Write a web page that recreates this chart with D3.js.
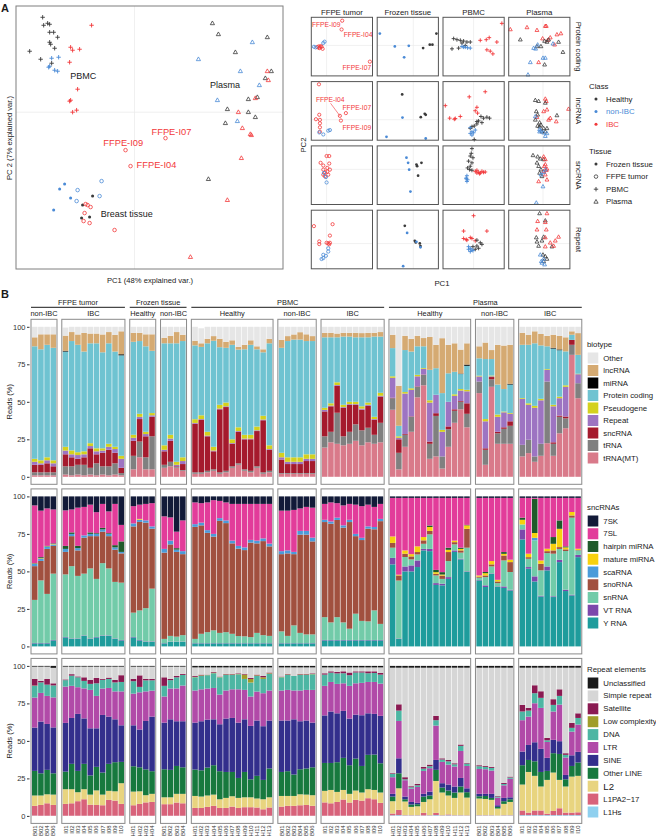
<!DOCTYPE html>
<html><head><meta charset="utf-8">
<script src="https://cdn.jsdelivr.net/npm/d3@7"></script>
<style>body{margin:0;background:#fff}svg{display:block}text{font-family:"Liberation Sans",Arial,Helvetica,sans-serif}</style>
</head><body><svg id="chart" width="656" height="839"></svg>
<script>
// ---------------- DATA ----------------
const classNames = ["Healthy","non-IBC","IBC"];
const classColors = ["#3b3b3b","#4a8ad6","#f2383a"];
const tissueNames = ["Frozen tissue","FFPE tumor","PBMC","Plasma"];

// Panel A, left PCA: [class, PC1, PC2]
const pcaPBMC = [
 ["Healthy",-9.2,9.5],["Healthy",-8.7,8.9],["Healthy",-8.5,8.8],["Healthy",-9.1,8.7],["Healthy",-8.5,8.0],["Healthy",-8.1,8.0],
 ["Healthy",-7.7,7.5],["Healthy",-8.5,7.0],["Healthy",-8.4,6.8],["Healthy",-8.0,6.4],["Healthy",-10.5,6.1],["Healthy",-9.4,5.3],["Healthy",-8.3,4.9],
 ["non-IBC",-8.3,5.4],["non-IBC",-7.6,5.5],["non-IBC",-8.5,4.6],["non-IBC",-8.6,4.5],["non-IBC",-8.0,4.2],["non-IBC",-7.7,4.1],
 ["IBC",-4.3,8.7],["IBC",-6.4,6.5],["IBC",-6.2,6.2],["IBC",-5.5,6.3],["IBC",-6.5,5.0],["IBC",-5.7,2.3],["IBC",-6.4,1.2],["IBC",-6.5,1.1],["IBC",-5.8,0.2],["IBC",-6.2,0.0]
];
const pcaPlasma = [
 ["Healthy",7.8,8.9],["Healthy",8.4,7.8],["Healthy",13.3,7.5],["Healthy",10.1,6.0],["Healthy",13.7,4.1],["Healthy",13.1,3.4],["Healthy",11.4,1.3],
 ["Healthy",12.3,1.5],["Healthy",9.3,0.3],["Healthy",11.4,0.0],["Healthy",12.1,-0.5],["Healthy",9.1,-1.1],["Healthy",7.4,-6.7],
 ["non-IBC",11.8,7.0],["non-IBC",6.4,5.3],["non-IBC",10.6,4.1],["non-IBC",12.5,2.7],["non-IBC",8.3,1.2],["non-IBC",10.3,-0.9],
 ["IBC",13.3,4.1],["IBC",13.4,3.2],["IBC",12.1,1.4],["IBC",10.4,0.0],["IBC",10.8,-1.6],["IBC",11.6,-2.2],["IBC",11.7,-2.3],["IBC",10.7,-4.6],["IBC",9.3,-8.8],["IBC",5.6,-14.5]
];
const pcaFFPE = [
 ["IBC",3.1,-2.6],["IBC",-0.9,-3.8],["IBC",-0.4,-5.4],["IBC",-4.9,-9.2],["IBC",-4.7,-9.3],["IBC",-4.4,-9.5],["IBC",-5.0,-10.1],["IBC",-5.1,-10.9],["IBC",-4.5,-11.1],["IBC",-2.0,-11.8],
 ["non-IBC",-3.3,-6.9],["non-IBC",-5.7,-7.8],["non-IBC",-3.5,-8.4],["non-IBC",-5.8,-8.9]
];
const pcaFrozen = [
 ["non-IBC",-7.0,-7.2],["non-IBC",-7.5,-7.7],["non-IBC",-6.4,-8.6],["non-IBC",-8.1,-9.8],
 ["Healthy",-4.2,-8.4],["Healthy",-5.2,-9.3],["Healthy",-4.5,-10.5],["Healthy",-5.3,-10.6]
];
// annotation labels [text, PC1, PC2, colour class]
const pcaLabels = [["PBMC",-5.13,3.63,"Healthy"],["Plasma",9.07,2.73,"Healthy"],["Breast tissue",-0.77,-10.2,"Healthy"],
 ["FFPE-I07",3.7,-1.97,"IBC"],["FFPE-I09",-1.13,-3.1,"IBC"],["FFPE-I04",2.2,-5.33,"IBC"]];

// Panel A facets: rows = data type, columns = tissue; values in relative PC units (0-100)
const facetRows = ["Protein coding","lncRNA","sncRNA","Repeat"];
const facetCols = ["FFPE tumor","Frozen tissue","PBMC","Plasma"];
const facetColZero = [25,59,50,56];
const facetRowZero = [52,35,60,43];
const facetProtein = [
 ["FFPE tumor","IBC",50.5,94.2],["FFPE tumor","IBC",49.5,79.2],["FFPE tumor","IBC",95.7,24.3],["FFPE tumor","IBC",9.8,49.1],["FFPE tumor","IBC",12,50.3],["FFPE tumor","IBC",14.1,48.6],["FFPE tumor","IBC",16.8,49.7],["FFPE tumor","IBC",13,47.4],["FFPE tumor","IBC",18.5,46.2],["FFPE tumor","IBC",15.2,50.9],
 ["FFPE tumor","non-IBC",4.3,49.7],["FFPE tumor","non-IBC",7.1,48.6],["FFPE tumor","non-IBC",19.6,56.1],["FFPE tumor","non-IBC",21.7,58.4],
 ["Frozen tissue","non-IBC",4.3,72.3],["Frozen tissue","non-IBC",28.8,50.3],["Frozen tissue","non-IBC",51.6,51.4],["Frozen tissue","non-IBC",44,31.8],
 ["Frozen tissue","Healthy",96.7,72.3],["Frozen tissue","Healthy",85.9,53.2],["Frozen tissue","Healthy",90.2,53.2],["Frozen tissue","Healthy",75,47.4],
 ["PBMC","Healthy",17.4,63.6],["PBMC","Healthy",22.8,61.8],["PBMC","Healthy",28.3,60.7],["PBMC","Healthy",33.7,59.5],["PBMC","Healthy",39.1,57.8],["PBMC","Healthy",14.7,46.2],["PBMC","Healthy",25.5,47.4],["PBMC","Healthy",36.4,52],["PBMC","Healthy",44.6,57.8],["PBMC","Healthy",31,56.1],
 ["PBMC","non-IBC",31,50.3],["PBMC","non-IBC",33.7,49.1],["PBMC","non-IBC",36.4,49.1],["PBMC","non-IBC",40.2,48],["PBMC","non-IBC",44.6,47.4],
 ["PBMC","IBC",96.2,89.6],["PBMC","IBC",75.5,65.3],["PBMC","IBC",70.7,61.8],["PBMC","IBC",60.9,60.7],["PBMC","IBC",88,57.8],["PBMC","IBC",71.7,44.5],["PBMC","IBC",77.2,42.2],["PBMC","IBC",81.5,37.6],
 ["Plasma","IBC",2.7,79.2],["Plasma","IBC",29.9,82.7],["Plasma","IBC",46.2,78],["Plasma","IBC",59.8,85],["Plasma","IBC",61.4,85],["Plasma","IBC",55.4,63.6],["Plasma","IBC",67.9,65.3],["Plasma","IBC",78.8,70.5],["Plasma","IBC",85.3,72.3],["Plasma","IBC",75,53.2],["Plasma","IBC",63.6,60.7],["Plasma","IBC",48.9,23.1],
 ["Plasma","Healthy",19,61.8],["Plasma","Healthy",58.7,59.5],["Plasma","Healthy",65.2,61.8],["Plasma","Healthy",81.5,57.8],["Plasma","Healthy",88.6,40.5],["Plasma","Healthy",62.5,57.8],["Plasma","Healthy",46.2,50.3],["Plasma","Healthy",52.7,50.3],["Plasma","Healthy",58.7,19.1],
 ["Plasma","non-IBC",35.3,23.1],["Plasma","non-IBC",47.3,53.2],["Plasma","non-IBC",44,46.2],["Plasma","non-IBC",40.8,47.4],["Plasma","non-IBC",56,30.6],["Plasma","non-IBC",59.8,30.6],["Plasma","non-IBC",31.5,2],["Plasma","non-IBC",72.3,54.9]
];
const facetLnc = [
 ["FFPE tumor","IBC",12.5,95.4],["FFPE tumor","IBC",13,43.4],["FFPE tumor","IBC",14.1,34.7],["FFPE tumor","IBC",7.6,35.8],["FFPE tumor","IBC",14.1,28.9],["FFPE tumor","IBC",14.1,22],["FFPE tumor","IBC",14.1,14.5],["FFPE tumor","IBC",46.7,41.6],["FFPE tumor","IBC",56.5,46.2],["FFPE tumor","IBC",48.4,33.5],
 ["FFPE tumor","non-IBC",13,13.3],["FFPE tumor","non-IBC",19.6,9.8],["FFPE tumor","non-IBC",27.7,16.2],["FFPE tumor","non-IBC",30.4,17.3],
 ["Frozen tissue","Healthy",40.8,78],["Frozen tissue","Healthy",71.2,39.3],["Frozen tissue","Healthy",77.7,45.1],["Frozen tissue","Healthy",79.3,43.4],
 ["Frozen tissue","non-IBC",41.3,38.7],["Frozen tissue","non-IBC",15.2,5.8],["Frozen tissue","non-IBC",79.3,2.9],
 ["PBMC","IBC",3.8,59],["PBMC","IBC",10.9,37.6],["PBMC","IBC",20.1,37],["PBMC","IBC",28.3,40.5],["PBMC","IBC",18.5,35.8],["PBMC","IBC",42.9,74],["PBMC","IBC",69,82.7],["PBMC","IBC",55.4,56.1],["PBMC","IBC",56.5,46.2],["PBMC","IBC",52.7,50.3],
 ["PBMC","Healthy",62,40.5],["PBMC","Healthy",66.3,37.6],["PBMC","Healthy",71.7,39.3],["PBMC","Healthy",76.1,37.6],["PBMC","Healthy",58.2,32.9],["PBMC","Healthy",55.4,27.7],["PBMC","Healthy",51.1,24.3],["PBMC","Healthy",47.3,23.1],["PBMC","Healthy",44.6,20.2],["PBMC","Healthy",51.1,1.2],["PBMC","Healthy",55.4,31.8],["PBMC","Healthy",63.6,30],
 ["PBMC","non-IBC",44.6,21.4],["PBMC","non-IBC",47.3,14.5],["PBMC","non-IBC",50,12.7],["PBMC","non-IBC",44.6,11.6],["PBMC","non-IBC",52.7,17.3],["PBMC","non-IBC",47.3,8.7],
 ["Plasma","IBC",59.8,70.5],["Plasma","IBC",61.4,66.5],["Plasma","IBC",57.1,49.1],["Plasma","IBC",62.5,52],["Plasma","IBC",67.9,37.6],["Plasma","IBC",77.7,31.8],["Plasma","IBC",97.8,53.2],["Plasma","IBC",65.2,34.7],["Plasma","IBC",46.2,39.3],
 ["Plasma","Healthy",43.5,68.2],["Plasma","Healthy",48.9,66.5],["Plasma","Healthy",45.1,49.1],["Plasma","Healthy",47.3,43.4],["Plasma","Healthy",59.8,63.6],["Plasma","Healthy",78.8,42.2],["Plasma","Healthy",50.5,30],["Plasma","Healthy",50.5,23.1],["Plasma","Healthy",57.1,20.2],["Plasma","Healthy",43.5,34.7],["Plasma","Healthy",52.7,26],["Plasma","Healthy",62.5,20.2],["Plasma","Healthy",47.3,24.3],["Plasma","Healthy",59.8,14.5],["Plasma","Healthy",54.3,14.5],
 ["Plasma","non-IBC",43.5,40.5],["Plasma","non-IBC",50.5,18.5],["Plasma","non-IBC",52.7,16.2],["Plasma","non-IBC",57.1,12.7],["Plasma","non-IBC",59.8,6.9],["Plasma","non-IBC",62.5,11.6],["Plasma","non-IBC",50.5,14.5]
];
const facetSnc = [
 ["FFPE tumor","IBC",25,82.7],["FFPE tumor","IBC",29.3,82.7],["FFPE tumor","IBC",15.2,71.1],["FFPE tumor","IBC",19.6,66.5],["FFPE tumor","IBC",29.3,69.9],["FFPE tumor","IBC",26.1,62.4],["FFPE tumor","IBC",30.4,59.5],["FFPE tumor","IBC",19.6,59.5],["FFPE tumor","IBC",22.3,54.9],["FFPE tumor","IBC",26.1,56.1],["FFPE tumor","IBC",27.7,50.9],["FFPE tumor","IBC",19.6,50.9],["FFPE tumor","IBC",22.3,48],
 ["FFPE tumor","non-IBC",20.7,53.8],["FFPE tumor","non-IBC",23.9,46.8],["FFPE tumor","non-IBC",25,37.6],
 ["Frozen tissue","non-IBC",47.8,79.8],["Frozen tissue","non-IBC",50.5,71.1],["Frozen tissue","non-IBC",52.2,59.5],["Frozen tissue","non-IBC",54.3,22],
 ["Frozen tissue","Healthy",64.1,68.2],["Frozen tissue","Healthy",65.2,65.3],["Frozen tissue","Healthy",72.3,71.1],["Frozen tissue","Healthy",66.8,49.1],
 ["PBMC","Healthy",47.3,95.4],["PBMC","Healthy",46.2,87.3],["PBMC","Healthy",44.6,82.7],["PBMC","Healthy",48.9,79.8],["PBMC","Healthy",41.8,74],["PBMC","Healthy",47.3,71.1],["PBMC","Healthy",44.6,65.3],["PBMC","Healthy",40.2,62.4],["PBMC","Healthy",43.5,59.5],["PBMC","Healthy",47.3,58.4],
 ["PBMC","IBC",52.7,56.6],["PBMC","IBC",55.4,53.8],["PBMC","IBC",58.2,54.9],["PBMC","IBC",60.9,53.8],["PBMC","IBC",63.6,56.6],["PBMC","IBC",66.3,54.9],["PBMC","IBC",69,55.5],["PBMC","IBC",55.4,58.4],["PBMC","IBC",59.8,52.6],
 ["PBMC","non-IBC",39.1,49.1],["PBMC","non-IBC",38,45.1],["PBMC","non-IBC",40.2,42.2],["PBMC","non-IBC",39.1,39.3],["PBMC","non-IBC",38,43.9],
 ["Plasma","Healthy",39.7,83.8],["Plasma","Healthy",47.3,81.5],["Plasma","Healthy",51.6,78],["Plasma","Healthy",46.2,71.1],["Plasma","Healthy",48.9,65.3],["Plasma","Healthy",52.7,59.5],["Plasma","Healthy",57.1,76.9],["Plasma","Healthy",50.5,53.8],["Plasma","Healthy",54.3,48],
 ["Plasma","IBC",57.1,81.5],["Plasma","IBC",59.8,76.9],["Plasma","IBC",59.8,68.2],["Plasma","IBC",62.5,60.7],["Plasma","IBC",61.4,58.4],["Plasma","IBC",57.1,56.6],["Plasma","IBC",59.8,50.9],["Plasma","IBC",48.9,39.3],["Plasma","IBC",62.5,42.2],["Plasma","IBC",58.2,65.3],
 ["Plasma","non-IBC",57.1,54.9],["Plasma","non-IBC",52.7,50.9],["Plasma","non-IBC",56,30.6],["Plasma","non-IBC",45.1,2.9],["Plasma","non-IBC",59.8,59.5]
];
const facetRepeat = [
 ["FFPE tumor","IBC",4.3,72.8],["FFPE tumor","IBC",34.8,76.1],["FFPE tumor","IBC",30.4,56.7],["FFPE tumor","IBC",13,46.7],["FFPE tumor","IBC",13,42.2],["FFPE tumor","IBC",25,44.4],["FFPE tumor","IBC",27.7,43.3],["FFPE tumor","IBC",30.4,44.4],["FFPE tumor","IBC",29.3,41.7],
 ["FFPE tumor","non-IBC",27.7,35],["FFPE tumor","non-IBC",27.7,29.4],["FFPE tumor","non-IBC",19.6,23.9],["FFPE tumor","non-IBC",23.9,22.2],["FFPE tumor","non-IBC",16.8,16.7],["FFPE tumor","non-IBC",19.6,18.3],
 ["Frozen tissue","Healthy",45.1,73.3],["Frozen tissue","Healthy",61.4,47.8],["Frozen tissue","Healthy",63,45],["Frozen tissue","Healthy",69.6,43.3],["Frozen tissue","Healthy",70.7,38.9],
 ["Frozen tissue","non-IBC",48.9,61.1],["Frozen tissue","non-IBC",64.1,46.1],["Frozen tissue","non-IBC",70.7,36.7],["Frozen tissue","non-IBC",42.4,4.4],
 ["PBMC","IBC",50,90.6],["PBMC","IBC",33.7,64.4],["PBMC","IBC",71.7,64.4],["PBMC","IBC",33.7,51.7],["PBMC","IBC",39.1,48.9],["PBMC","IBC",47.3,51.7],["PBMC","IBC",52.7,47.8],["PBMC","IBC",44.6,53.3],["PBMC","IBC",38,50],
 ["PBMC","Healthy",55.4,48.9],["PBMC","Healthy",60.9,44.4],["PBMC","Healthy",63.6,41.7],["PBMC","Healthy",55.4,38.9],["PBMC","Healthy",48.9,37.8],["PBMC","Healthy",58.2,35],["PBMC","Healthy",52.7,33.3],
 ["PBMC","non-IBC",41.8,37.8],["PBMC","non-IBC",44.6,35],["PBMC","non-IBC",47.3,32.2],["PBMC","non-IBC",41.8,33.3],["PBMC","non-IBC",44.6,29.4],["PBMC","non-IBC",48.9,31.1],
 ["Plasma","Healthy",50.5,94.4],["Plasma","Healthy",59.8,82.2],["Plasma","Healthy",57.1,54.4],["Plasma","Healthy",45.1,53.3],["Plasma","Healthy",46.2,46.1],["Plasma","Healthy",48.9,38.9],["Plasma","Healthy",54.3,47.8],["Plasma","Healthy",56,23.9],["Plasma","Healthy",59.8,21.1],["Plasma","Healthy",62.5,16.7],["Plasma","Healthy",70.7,37.8],["Plasma","Healthy",57.1,12.8],
 ["Plasma","IBC",62.5,94.4],["Plasma","IBC",47.3,81.1],["Plasma","IBC",59.8,79.4],["Plasma","IBC",46.2,66.7],["Plasma","IBC",61.4,66.7],["Plasma","IBC",59.8,53.3],["Plasma","IBC",67.9,44.4],["Plasma","IBC",76.1,47.8],["Plasma","IBC",81.5,54.4],["Plasma","IBC",73.4,38.9],["Plasma","IBC",59.8,37.8],
 ["Plasma","non-IBC",51.6,23.9],["Plasma","non-IBC",57.1,16.7],["Plasma","non-IBC",54.3,10],["Plasma","non-IBC",58.7,7.2],["Plasma","non-IBC",53.3,12.8]
];
// facet annotations [row, text, left x, y]
const facetLabels = [[0,"FFPE-I09",1,88],[0,"FFPE-I04",53,70.5],[0,"FFPE-I07",51,14],
 [1,"FFPE-I04",7.6,69.4],[1,"FFPE-I07",51,56],[1,"FFPE-I09",51,22]];
const facetLeader = [[1,31.5,63,46.7,41.6]];

// Panel B: sample groups
const sampleGroups = [
 ["FFPE tumor","non-IBC",["B01","B02","B04","B06"]],
 ["FFPE tumor","IBC",["I01","I02","I03","I04","I05","I06","I07","I08","I09","I10"]],
 ["Frozen tissue","Healthy",["H01","H02","H03","H04"]],
 ["Frozen tissue","non-IBC",["B01","B02","B03","B04"]],
 ["PBMC","Healthy",["H01","H02","H03","H04","H05","H06","H07","H08","H09","H10","H11","H12","H13"]],
 ["PBMC","non-IBC",["B01","B02","B03","B04","B05","B06"]],
 ["PBMC","IBC",["I01","I02","I03","I04","I05","I06","I07","I08","I09","I10"]],
 ["Plasma","Healthy",["H01","H02","H03","H04","H05","H06","H07","H08","H09","H10","H11","H12","H13"]],
 ["Plasma","non-IBC",["B01","B02","B03","B04","B05","B06"]],
 ["Plasma","IBC",["I01","I02","I03","I04","I05","I06","I07","I08","I09","I10"]]
];
// stack keys, bottom to top
const biotypeKeys = ["tRNA(MT)","tRNA","sncRNA","Repeat","Pseudogene","Protein coding","miRNA","lncRNA","Other"];
const biotypeColors = ["#d97a8a","#808080","#a51a2d","#9d74c2","#d4d11e","#6fc3d1","#000000","#d5aa72","#e6e6e6"];
const sncKeys = ["Y RNA","VT RNA","snRNA","snoRNA","scaRNA","mature miRNA","hairpin miRNA","7SL","7SK"];
const sncColors = ["#1e9c9c","#7c48ab","#72cba9","#a1503f","#4b9bd9","#f7d10d","#1f5a2a","#e23c9a","#121a38"];
const repeatKeys = ["L1Hs","L1PA2\u221217","L2","Other LINE","SINE","LTR","DNA","Low complexity","Satellite","Simple repeat","Unclassified"];
const repeatColors = ["#8fd0ef","#d8627a","#e8d47f","#17793e","#332f8c","#b14aa8","#4db6a3","#a09d2a","#8a1a52","#d6d6d6","#1a1a1a"];

// reads (%) per sample, columns in key order (bottom to top)
const biotypeShare = [
 [1,2,5,2,2,75,0,6,7],[1,2,5,1,2,74,0,10,5],[1,2,6,2,2,75,0,7,5],[1,2,4,2,2,75,0,9,5],
 [1.5,5.5,8,2.5,2.5,63.5,0.5,10.1,5.4],[1,6,6,2,2.6,72.9,0,6,3.5],[1.5,6.5,4,2.5,1.9,71.6,0,6.9,5.1],[1,7,5,2,2,66.5,0,12.4,4.1],[1.5,4.5,13,1.5,1.9,66.6,0,6.5,4.5],
 [1,8,6,2,2,70,0,6.5,4.5],[1.5,5.5,9,1.5,1.5,64,0,11.9,5.1],[1,6,11,2,2,67,0,7.5,3.5],[1.5,7.5,7,2.5,1.5,63.5,0,11.1,5.4],[1,1.5,3.5,6,2,67,0.7,15.3,3],
 [5,9,10,2,2,62,0,6,4],[13,10.5,15,1.5,2,48.5,0,5.5,4],[5,8,14,1.5,1.5,57,0,8,5],[5,22,13,1,1.5,41.5,0,11,5],
 [6,2,9,1,3,68,0,3.7,7.3],[7,3,14,1.5,2.5,61,0,5,6],[6,0.5,0.5,1,2,79,0,7.5,3.5],[4,0.5,4,2,2.5,77.5,0,4.2,5.3],
 [2,1,32.4,0.5,2.5,49.2,0,3.1,9.3],[2,1,35,0.5,2.5,45.6,0,2.4,10],[3,1,23,0.5,2.5,59,0,3,8],[4,1,12,0.5,2.5,70.7,0,3.1,6.2],[2,1,42,0.5,2.5,38.4,0,5.6,8],
 [3,1,42.5,0.5,2.5,36.5,0,4,10],[6,1,15,0.5,2.5,63,0,3,9],[8,1,21,0.5,2.5,51.8,0,1.9,13.3],[4,1,20,0.5,2.5,57,0,3,12],[3,1,21,0.5,2.5,60,0,3,9],
 [6,1,23.5,0.5,2.5,51.5,0,2,13],[2,1,34.7,0.5,2.5,42.3,0,2,15],[3,1,14,0.5,2.5,68,0,3,8],
 [2,0.5,9,1.5,3,70,0,5.3,8.7],[2,0.5,6,1.5,3,77.5,0,3.3,6.2],[2,0.5,6,1.5,3,78.5,0,3.4,5.1],[2,0.5,6,1.5,3,78.5,0,4.9,3.6],[2,0.5,8,1.5,3,75.5,0,4.5,5],[2,0.5,8,1.5,3,75.5,0,3.3,6.2],
 [19.5,7.5,16.6,1,1.4,47,0,3,4],[23,7,17,0.5,1.5,44,0,3,4],[22,20.7,18,0.5,1.8,30,0,2.5,4.5],[21,6,19,0.5,1.5,45.5,0,2.5,4],[22,8,18,0.5,1.5,43.5,0,2.5,4],
 [24,11,13,0.5,1.5,43,0,3,4],[21,10,13.7,0.8,1.5,46,0,2.8,4.2],[23,9.7,14.6,0.7,1.5,43.5,0,3,4],[22,6,10,0.5,1.5,53.5,0,2.5,4],[23,13,17.5,0.5,2,37.5,0,3,3.5],
 [44.7,7.7,0.3,13.3,1,18.8,0,8.9,5.3],[5,11,9,1,1,7,0,26.7,39.3],[20,8,0.5,27,1,28,0,9.5,6],[30,10,0.3,17.7,1,24.5,0,8.5,8],[53,7,0.3,6.7,1,19,0,7,6],
 [61,7,0.2,3.8,0.5,14.5,0,5.5,7.5],[12,10,1.5,26,1.5,20.3,0,22,6.7],[13.6,27,1.8,12.3,0,17.7,0,15.6,12],[5.5,8.1,0,16.4,1.3,24.5,0,36.6,7.6],[20,11.7,1.9,16.4,0,19,0,19,12],
 [36,8,1,9,1,15,0,19,11],[45,5,0.5,7,1,10,0.3,16,15.2],[33,9,7,8,1,16,0.8,14.2,11],
 [55.8,7.7,0,3.4,0.5,11.6,0,8,13],[8,10,1,18,1.5,40,0,11,10.5],[60,5,1.5,0.5,0.5,11,0,6,15.5],[22,7,1,10,1.5,20,0,26.5,12],[22,10,1,10,0.5,15,0,29,12.5],[22,12,3,5,0.5,19,0.5,26,12],
 [13.6,7.7,0,30.7,0.5,35.5,0,8,4],[15.8,8.9,0,23.3,1,39,0,6.7,5.3],[10,3.6,0,32.4,1.3,41.7,0,8,3],[14,8,0,29,1,35.6,0,7.6,4.8],[22.4,41.1,0,7.8,0.5,15.2,0,7,6],
 [14,8,1,24,1,37.5,0.5,8.7,5.3],[29,11,0.8,11.6,1,31,0.5,9,6.1],[32.4,6.6,1.2,19.8,1,22.6,0,9.4,7],[81.3,6.7,3.3,0,0,3.4,0,2.3,3],[52.4,10,0,6,0.3,12.6,0,14.5,4.2]
];
const sncShare = [
 [2,0.3,28.7,22.5,1.5,0.2,0.3,38.5,6],[2,0.3,41.7,13,1.5,0.3,0.7,31,9.5],[2,0.3,32.7,30,1.5,0.2,0.3,25,8],[4,0.3,44.2,18.5,1,0.3,0.4,22.6,8.7],
 [6,0.3,41.7,15,2,0,2,23.7,9.3],[5,0.3,48.2,20,1.5,0,1,15.3,8.7],[5,0.3,41.7,17,1.5,0,1.5,25.5,7.5],[7,0.3,41.2,24,1.5,0,0,19,7],[5,0.3,46.7,21.5,1.5,0,1,18.5,5.5],
 [6,0.3,38.7,28.5,1.5,0,0.5,14,10.5],[7,0.3,48.2,21,1.5,0,1,16,5],[7,0.3,44.7,21.5,1.5,0,0.5,14.5,10],[5,0.3,37.7,21.5,1.5,0,1.5,27.5,5],[4,0.3,38.2,19.5,1,0,7,11,19],
 [6,0.3,16.2,57.5,2,0,0,11.5,6.5],[4,0.3,19.7,59,1.5,0.5,0,9.5,5.5],[3,0.3,22.2,57,1.5,0,0,11,5],[3,0.3,35.2,40,1.5,0,0,15.5,4.5],
 [2,0.2,2.8,57.5,2.5,0,0,21.7,13.3],[3,0.2,3.8,61,2.5,0,0,15.5,14],[3,0.2,3.3,56.5,1.5,0,1,11,23.5],[3,0.2,4.3,54,2,0,0,20.5,16],
 [2,0.2,2.8,74.7,1.8,0,0,14.5,4],[2,0.2,6.2,72.3,1.8,0,0,13,4.5],[2,0.2,7.3,66.2,1.8,0,0,18.5,4],[2,0.2,8.5,62.5,1.8,0,0,22.5,2.5],[2,0.2,6.8,74.7,1.8,0,0,11.5,3],
 [2,0.2,7.3,72.7,1.8,0,0,12,4],[2,0.2,6.2,60.3,1.8,0,0,24.5,5],[2,0.2,4.7,58.3,1.8,0,0,28,5],[2,0.2,4.5,57.5,1.8,0,0,29,5],[2,0.2,4,63,1.8,0,0,24,5],
 [2,0.2,6.8,59.7,1.8,0,0,24.5,5],[2,0.2,5.3,62.7,1.8,0,0,23,5],[2,0.2,4.8,59.7,1.8,0,0,26.5,5],
 [2,0.2,7.8,51.5,2,0,0,27,9.5],[2,0.2,4.8,55,2,0,0,26.5,9.5],[2,0.2,11.8,47.5,1.5,0,0,28,9],[2,0.2,6.8,65.5,2.5,0,0,15,8],[2,0.2,5.8,66.5,2.5,0,0,16,7],[2,0.2,5.8,62,2.5,0,0,20,7.5],
 [4,0.3,15.2,63.4,1.5,0,0,10.6,5],[4,0.3,11.7,65.8,1.5,0,0,12.7,4],[4,0.3,15.2,64.8,1.5,0,0,9.7,4.5],[4,0.3,11.7,63.2,1.5,0,0,13.3,6],[4,0.3,7.5,71.1,1.5,0,0,10.6,5],
 [4,0.3,17.5,51.7,1.5,0,0,19.5,5.5],[4,0.3,12.7,53.9,1.5,0,0,21.1,6.5],[4,0.3,12.4,61.8,1.5,0,0,14.5,5.5],[4,0.3,19.7,54.1,1.5,0,0,13.4,7],[4,0.3,10.7,68.5,1.5,0,0,10,5],
 [54.7,4.3,6.8,3.2,0,4.3,0,25.7,1],[5,0.3,38.6,3.4,0,0.5,0,51.2,1],[50,3.3,6.3,2.2,0,2.2,0,35,1],[50,4,4,2,0,1.5,0,37.5,1],[52.9,4.4,4,1.6,0,3.8,0,32.3,1],
 [64,1,3.4,2.3,0,2.2,0,26.1,1],[63.5,1.5,9.7,2.3,0,2.6,1,18.4,1],[41,1.2,5.1,1.1,0,1.1,1.5,48,1],[40.7,1.1,3.2,2.2,0,0.7,1.6,49.5,1],[45,1.2,10.7,6,0,1.5,1.4,33.2,1],
 [63,1,4,1.5,0,1,0,28.5,1],[58,0.5,4,1.5,0,1,0.8,33.2,1],[49.6,0.4,15.8,12.6,0,2.3,0.3,18,1],
 [44,0.3,1.5,0.7,0,0.8,0,51.7,1],[39.6,1.1,5.5,1.1,0,1.5,0.8,49.4,1],[48.4,0.3,4.6,1.4,0,2.2,0,42.1,1],[39.6,0.4,2.2,1.1,0,1.1,0,54.6,1],[39,1,17.3,3.3,0,1.1,1.2,36.1,1],[37.3,0.5,11.8,6.6,0,1.6,0,41.2,1],
 [71.3,6.7,3.3,0,0,3.1,1.4,13.2,1],[51.8,1.1,5.5,1.1,0,2.3,0,37.2,1],[43.3,3.4,24,0,1.7,3.2,22.8,0.6,1],[33.3,0.5,16.9,4.4,0,2.2,0,41.7,1],[50.7,2.6,8.9,1.3,0,1.6,0,33.9,1],
 [32.9,0.5,28.4,2.2,0,4.4,4.5,26.1,1],[56.2,1.5,7.3,1.2,0,12.2,5.6,15,1],[36.9,0.9,25.8,1.1,0,1.3,0.7,32.3,1],[34,0.5,51.3,1.5,0,2.3,0,9.4,1],[59.5,1.5,3,0.3,0,0.8,0,33.9,1]
];
const repeatShare = [
 [0.2,6.5,6.9,16.4,28.9,20,7.8,0.2,4.4,8.2,0.5],[0.1,7.2,6.3,14.8,34.5,19.1,7,0,1,9.5,0.5],[0.1,8.3,6,16.3,30.6,18.7,7.5,0,3.8,8.2,0.5],[0.1,7.2,6.9,14.2,30.6,20,8,0,1.4,10.3,1.3],
 [0.1,7.9,9.8,11.7,32.5,24.2,4.3,0,0.5,8.5,0.5],[0.1,8.3,9.4,16.9,30.6,21.4,6.8,0,1,5,0.5],[0.1,9.7,6,14.2,38,17.8,6.6,0,0.6,6.5,0.5],[0.1,11,6.7,16.9,30.3,20,5,0,2.4,7.1,0.5],[0.1,7.4,6.7,12.8,31.4,25.6,4,0,2.7,8.8,0.5],
 [0.1,7.2,9.7,15.7,25.7,21.6,8.4,0,3.6,7.5,0.5],[0.1,7,7.1,14.7,38.4,17.6,5.8,0,0.6,8.2,0.5],[0.1,10.6,6,18,31.5,19.1,6,0,0.9,7.3,0.5],[0.1,10.1,6.2,19.4,28.6,18.6,6,0,1.7,8.8,0.5],[0.1,7.9,13.8,14.2,24.4,22.6,6.3,0,4.5,5.7,0.5],
 [0.1,7,9.1,16.9,27.3,21.1,8.3,0,1.5,8.2,0.5],[0.1,7.9,8.4,16,25.2,24.8,3.6,0,7.7,5.8,0.5],[0.1,8.9,4.8,17.2,32.3,19.7,7.4,0,0.9,8.2,0.5],[0.1,9.2,5.4,15.1,36.4,17.3,6.9,0,0.9,8.2,0.5],
 [0.1,7.7,4.6,18.7,31.1,17.4,7.1,0,5.7,7.1,0.5],[0.1,7.7,4.6,18.3,33.7,20.5,5.6,0,0.8,8.2,0.5],[0.1,8.8,5.8,18.6,29.8,21.9,7.4,0,0.9,6.2,0.5],[0.1,8.3,6.3,17.7,30.7,23.8,7.1,0,0.7,4.8,0.5],
 [0.1,5.2,8,17.6,31.3,21.4,8.8,0.3,0.6,5.7,1],[0.1,5.2,7.6,17.5,32.7,21.3,8.9,0.4,0.5,4.8,1],[0.1,5.9,7.6,18.6,32,20.7,8.9,0.2,0.2,4.8,1],[0.1,6.6,7.5,19.6,30.6,20.9,9.8,0.4,0.5,3,1],[0.1,5.2,5.8,18.7,31.3,19.8,11.5,0.2,0.3,6.1,1],
 [0.1,5.2,6.7,17.3,35.6,18.7,10.4,0.3,0.4,4.3,1],[0.1,6.1,6.9,16.2,36,19.1,9.6,0.3,0.4,4.3,1],[0.1,5.2,6.7,13.3,36.9,22.2,10,0.3,0.4,3.9,1],[0.1,5.7,6.6,16.9,35.1,19.6,7.3,2.9,0.5,4.3,1],[0.1,5.7,6.6,12,35.6,19.6,9.3,2.4,0.7,7,1],
 [0.1,5.5,6,15.1,36.9,19.3,10.4,0.4,0.5,4.8,1],[0.1,4.3,6.7,12.9,35.8,22,9.5,1.1,0.9,5.7,1],[0.1,5.5,6.8,19.2,32,20,11.1,0.4,0.5,3.4,1],
 [0.1,6.1,7.1,16,34.3,20,8.8,0.2,0.3,6.1,1],[0.1,6.6,6.6,16.5,33.8,20.4,10,0.3,0.4,4.3,1],[0.1,6.6,6.6,14.3,36.8,19.2,9.7,0,0,5.7,1],[0.1,7,7.3,16.7,32,20.5,10.4,0.3,0.4,4.3,1],[0.1,7.2,6.9,17.4,32,20.4,10,0.3,0.4,4.3,1],[0.1,6.6,7.1,18.6,29.8,21.8,10.4,0.3,0.4,3.9,1],
 [0.1,8.9,7.7,18.6,31.7,19.7,7.5,0,0.9,3.9,1],[0.1,8.3,8.9,18,34.3,19.7,6.2,0,0.9,2.6,1],[0.1,9.2,6.7,19.8,32.6,19.6,7,0,1,3,1],[0.1,10.8,6.4,21.4,31.3,18.4,6.7,0,1.3,2.6,1],[0.1,8.8,5.8,19.1,31.1,21.8,7.1,0,1.8,3.4,1],
 [0.1,10.6,6.2,21.3,29.3,20.9,7.2,0,0.8,2.6,1],[0.1,10.1,5.4,17.7,33.8,21.6,6.9,0,0.8,2.6,1],[0.1,11.7,6,22.9,27.7,20.9,5.8,0,1.3,2.6,1],[0.1,11,6.2,23.6,27.1,21.3,6,0,1.1,2.6,1],[0.1,8.6,6.9,19.5,31.6,21.5,6,0,1.1,3.7,1],
 [0.4,1.2,8.2,3.1,1.8,11.1,2.2,0,0.5,70.3,1.2],[0.5,3.5,14.4,10,10,24.9,6.9,0,4.2,24.4,1.2],[0.3,0.2,9.1,1.5,1.8,10.9,0.6,0,1.4,73,1.2],[0.3,0.2,5.5,1.6,1.7,8.9,0.9,0,0.7,79,1.2],[0.3,0.2,5.9,1.4,0.9,10.6,1.1,0,0.9,77.5,1.2],
 [0.3,1.7,7.3,3.6,1.8,15.3,1.5,0,1.2,66.1,1.2],[0.3,0.2,10.6,2.5,2.6,15.6,1.3,0,1.1,64.6,1.2],[0.5,1.5,21.3,7.4,6.6,22.9,3.6,0,2.9,32.1,1.2],[0.3,0.2,15.1,3.3,2.9,14.2,1.6,0,0.8,60.4,1.2],[0.4,0.6,12.6,3.3,4,13.3,2.2,0,0.9,61.5,1.2],
 [0.3,0.2,11.5,3.6,4,13.3,1.5,0,0.7,63.7,1.2],[0.3,0.2,15.1,4,5.7,18,3.4,0,0.9,51.2,1.2],[0.2,0.2,11.8,3.6,2.6,14.9,1.6,0,0.4,63.5,1.2],
 [0.3,0.2,11.1,1.5,1.6,16.6,1.8,0,0.7,65,1.2],[0.3,0.2,10.8,2,1.4,16.4,1.6,0,0.6,65.5,1.2],[0.3,0.2,10.2,1.3,2.7,15.5,1.8,0,0.7,66.1,1.2],[0.2,0.1,4.6,1.1,1.1,5.1,0.7,0,0.4,85.5,1.2],[0.3,0.2,7.5,1.8,2.2,8.4,0.9,0,0.7,76.8,1.2],[0.3,0.2,8.8,1.8,1.3,12.3,0.9,0,0.6,72.6,1.2],
 [0.5,3.1,17.3,12.9,9.1,20.9,5.8,0,4.4,24.8,1.2],[0.5,1.7,27.1,8,10,18.9,4,0,1.8,26.8,1.2],[0.5,3.1,23.1,9.7,12.7,26,6.7,0,5.3,11.7,1.2],[0.5,3.1,16,9.7,15.4,27.3,6.7,0,4.4,15.7,1.2],[0.5,1,22.5,6,8.7,10.6,1.1,0,1.6,46.8,1.2],
 [0.5,2.8,25.6,12.9,8.9,18.9,4.4,0,3.8,21,1.2],[0.5,4.6,18.9,17.3,8.5,24.4,5.8,0,4.4,14.4,1.2],[0.5,1.7,17.4,4.8,2.9,11.6,1.8,0,1.1,57,1.2],[0.5,1.7,24,7.1,7.1,15.8,2.5,0,3.3,36.8,1.2],[0.5,1.9,24.3,8.9,7.1,18.2,4.4,0,3.1,30.4,1.2]
];
const yTicks = [0,25,50,75,100];

// ---------------- DRAWING ----------------
const svg = d3.select("#chart");
const INK = "#1a1a1a";
const colorOf = d3.scaleOrdinal().domain(classNames).range(classColors);

function text(g, x, y, s, o = {}) {
  const t = g.append("text").attr("x", x).attr("y", y).text(s)
    .attr("font-size", o.size || 8).attr("fill", o.fill || INK)
    .attr("text-anchor", o.anchor || "start").attr("dominant-baseline", o.base || "central");
  if (o.weight) t.attr("font-weight", o.weight);
  if (o.rotate != null) t.attr("transform", `rotate(${o.rotate},${x},${y})`);
  return t;
}
function marker(g, tissue, color, s) {
  if (tissue === "FFPE tumor") g.append("circle").attr("r", 1.7 * s).attr("fill", "none").attr("stroke", color).attr("stroke-width", 0.8);
  else if (tissue === "Frozen tissue") g.append("circle").attr("r", 1.45 * s).attr("fill", color);
  else if (tissue === "PBMC") g.append("path").attr("d", `M${-2.1*s},0H${2.1*s}M0,${-2.1*s}V${2.1*s}`).attr("stroke", color).attr("stroke-width", 0.9);
  else g.append("path").attr("d", `M0,${-2.2*s}L${2*s},${1.35*s}L${-2*s},${1.35*s}Z`).attr("fill", "none").attr("stroke", color).attr("stroke-width", 0.8);
}

// panel letters
text(svg, 1, 8, "A", {size: 11, weight: "bold"});
text(svg, 1, 294, "B", {size: 11, weight: "bold"});

// ---- Panel A left PCA ----
{
  const x = d3.scaleLinear().domain([-11.87, 14.87]).range([16, 283]);
  const y = d3.scaleLinear().domain([-15.7, 10.63]).range([269, 6]);
  const g = svg.append("g");
  g.append("line").attr("x1", x(0)).attr("x2", x(0)).attr("y1", y.range()[1]).attr("y2", y.range()[0]).attr("stroke", "#ebebeb").attr("stroke-width", 0.8);
  g.append("line").attr("y1", y(0)).attr("y2", y(0)).attr("x1", x.range()[0]).attr("x2", x.range()[1]).attr("stroke", "#ebebeb").attr("stroke-width", 0.8);
  const sets = [["Frozen tissue", pcaFrozen], ["FFPE tumor", pcaFFPE], ["PBMC", pcaPBMC], ["Plasma", pcaPlasma]];
  sets.forEach(([tissue, arr]) => {
    arr.forEach(d => {
      const m = g.append("g").attr("transform", `translate(${x(d[1])},${y(d[2])})`);
      marker(m, tissue, colorOf(d[0]), 1.05);
    });
  });
  pcaLabels.forEach(d => text(g, x(d[1]), y(d[2]), d[0], {size: d[3] === "IBC" ? 9.3 : 9, anchor: "middle", fill: d[3] === "IBC" ? classColors[2] : INK}));
  g.append("rect").attr("x", 16).attr("y", 6).attr("width", 267).attr("height", 263).attr("fill", "none").attr("stroke", "#7f7f7f").attr("stroke-width", 1);
  text(svg, 150, 280, "PC1 (48% explained var.)", {size: 7.6, anchor: "middle"});
  text(svg, 9, 138, "PC 2 (7% explained var.)", {size: 7.6, anchor: "middle", rotate: -90});
}

// ---- Panel A facets ----
{
  const colX = [311.3, 377.2, 443, 508.7], fw = 61.2;
  const rowY = [17.3, 81.6, 145.9, 210.2], fh = 58.6;
  const rowsData = [facetProtein, facetLnc, facetSnc, facetRepeat];
  facetRows.forEach((rn, r) => {
    facetCols.forEach((cn, c) => {
      const fx = d3.scaleLinear().domain([0, 100]).range([colX[c], colX[c] + fw]);
      const fy = d3.scaleLinear().domain([0, 100]).range([rowY[r] + fh, rowY[r]]);
      const g = svg.append("g");
      g.append("line").attr("x1", fx(facetColZero[c])).attr("x2", fx(facetColZero[c])).attr("y1", fy(0)).attr("y2", fy(100)).attr("stroke", "#ebebeb").attr("stroke-width", 0.7);
      g.append("line").attr("y1", fy(facetRowZero[r])).attr("y2", fy(facetRowZero[r])).attr("x1", fx(0)).attr("x2", fx(100)).attr("stroke", "#ebebeb").attr("stroke-width", 0.7);
      rowsData[r].filter(d => d[0] === cn).forEach(d => {
        const m = g.append("g").attr("transform", `translate(${fx(d[2])},${fy(d[3])})`);
        marker(m, cn, colorOf(d[1]), 0.95);
      });
      if (c === 0) {
        facetLabels.filter(d => d[0] === r).forEach(d => text(g, fx(d[2]), fy(d[3]), d[1], {size: 6.7, fill: classColors[2]}));
        facetLeader.filter(d => d[0] === r).forEach(d => g.append("line").attr("x1", fx(d[1])).attr("y1", fy(d[2])).attr("x2", fx(d[3])).attr("y2", fy(d[4])).attr("stroke", classColors[2]).attr("stroke-width", 0.6));
      }
      g.append("rect").attr("x", colX[c]).attr("y", rowY[r]).attr("width", fw).attr("height", fh).attr("fill", "none").attr("stroke", "#555").attr("stroke-width", 1);
      if (r === 0) text(svg, colX[c] + fw / 2, 12, cn, {size: 7.8, anchor: "middle"});
    });
    text(svg, 578, rowY[r] + fh / 2, rn, {size: 7.8, anchor: "middle", rotate: 90});
  });
  text(svg, 303, 145, "PC2", {size: 7.8, anchor: "middle", rotate: -90});
  text(svg, 442, 283, "PC1", {size: 7.8, anchor: "middle"});
  // legends
  const lg = svg.append("g");
  text(lg, 589, 86, "Class", {size: 7.8});
  classNames.forEach((cn, i) => {
    const yy = 99 + i * 12.6;
    const m = lg.append("g").attr("transform", `translate(596,${yy})`);
    marker(m, "Frozen tissue", classColors[i], 1.05);
    text(lg, 606, yy, cn, {size: 7.8, fill: i === 0 ? INK : classColors[i]});
  });
  text(lg, 589, 151, "Tissue", {size: 7.8});
  tissueNames.forEach((tn, i) => {
    const yy = 164 + i * 12.6;
    const m = lg.append("g").attr("transform", `translate(596,${yy})`);
    marker(m, tn, "#3b3b3b", 1.05);
    text(lg, 606, yy, tn, {size: 7.8});
  });
}

// ---- Panel B ----
{
  const u = 6.19, gap = 4.8, x0 = 31;
  let cx = x0, idx = 0;
  const layout = sampleGroups.map(g => {
    const w = (g[2].length + 0.2) * u;
    const o = {tissue: g[0], cls: g[1], samples: g[2], x: cx, w, start: idx};
    cx += w + gap; idx += g[2].length;
    return o;
  });
  const panels = [
    {top: 319.3, keys: biotypeKeys, colors: biotypeColors, data: biotypeShare, title: "biotype"},
    {top: 488.9, keys: sncKeys, colors: sncColors, data: sncShare, title: "sncRNAs"},
    {top: 658.4, keys: repeatKeys, colors: repeatColors, data: repeatShare, title: "Repeat elements"}
  ];
  const ph = 165;
  panels.forEach((p, pi) => {
    const y = d3.scaleLinear().domain([0, 100]).range([p.top + ph - 7.5, p.top + 7.5]);
    const rows = p.data.map(r => Object.fromEntries(p.keys.map((k, i) => [k, r[i]])));
    const stacked = d3.stack().keys(p.keys)(rows);
    const col = d3.scaleOrdinal().domain(p.keys).range(p.colors);
    layout.forEach(L => {
      const xb = d3.scaleBand().domain(L.samples).range([L.x, L.x + L.w]).paddingInner(0.1).paddingOuter(0.15);
      const g = svg.append("g");
      stacked.forEach(layer => {
        L.samples.forEach((s, j) => {
          const seg = layer[L.start + j];
          if (seg[1] - seg[0] <= 0) return;
          g.append("rect").attr("x", xb(s)).attr("width", xb.bandwidth())
            .attr("y", y(seg[1])).attr("height", Math.max(0, y(seg[0]) - y(seg[1])))
            .attr("fill", col(layer.key));
        });
      });
      g.append("rect").attr("x", L.x).attr("y", p.top).attr("width", L.w).attr("height", ph).attr("fill", "none").attr("stroke", "#8a8a8a").attr("stroke-width", 1);
      if (pi === 2) {
        L.samples.forEach(s => text(svg, xb(s) + xb.bandwidth() / 2, p.top + ph + 2, s, {size: 6, anchor: "end", rotate: -90, fill: "#333"}));
      }
    });
    // y axis
    const ax = svg.append("g").attr("transform", `translate(${x0 - 1.5},0)`).call(d3.axisLeft(y).tickValues(yTicks).tickSize(2.5).tickPadding(1.5));
    ax.select(".domain").remove();
    ax.selectAll(".tick line").attr("stroke", "#333");
    ax.selectAll(".tick text").attr("font-size", 7.5).attr("fill", "#333").attr("font-family", '"Liberation Sans",Arial,sans-serif');
    text(svg, 9.5, p.top + ph / 2, "Reads (%)", {size: 7.5, anchor: "middle", rotate: -90});
    // legend
    const lg = svg.append("g");
    const ly0 = [344, 507, 669][pi], step = [12.5, 12.75, 12.9][pi];
    text(lg, 587, ly0, p.title, {size: 7.8});
    p.keys.slice().reverse().forEach((k, i) => {
      const yy = ly0 + 14 + i * step;
      lg.append("rect").attr("x", 587.7).attr("y", yy - 5.5).attr("width", 10.6).attr("height", 11).attr("fill", col(k));
      text(lg, 603.3, yy, k, {size: k === "L2" ? 9.6 : 7.8});
    });
  });
  // strip headers
  const hdr = svg.append("g");
  layout.forEach(L => text(hdr, L.x + L.w / 2, 313.4, L.cls, {size: 7.4, anchor: "middle"}));
  const tissues = [...new Set(layout.map(L => L.tissue))];
  tissues.forEach(t => {
    const ls = layout.filter(L => L.tissue === t);
    const a = ls[0].x, b = ls[ls.length - 1].x + ls[ls.length - 1].w;
    hdr.append("line").attr("x1", a).attr("x2", b).attr("y1", 307.3).attr("y2", 307.3).attr("stroke", INK).attr("stroke-width", 1);
    text(hdr, (a + b) / 2, 302.3, t, {size: 7.4, anchor: "middle"});
  });
}
</script></body></html>
